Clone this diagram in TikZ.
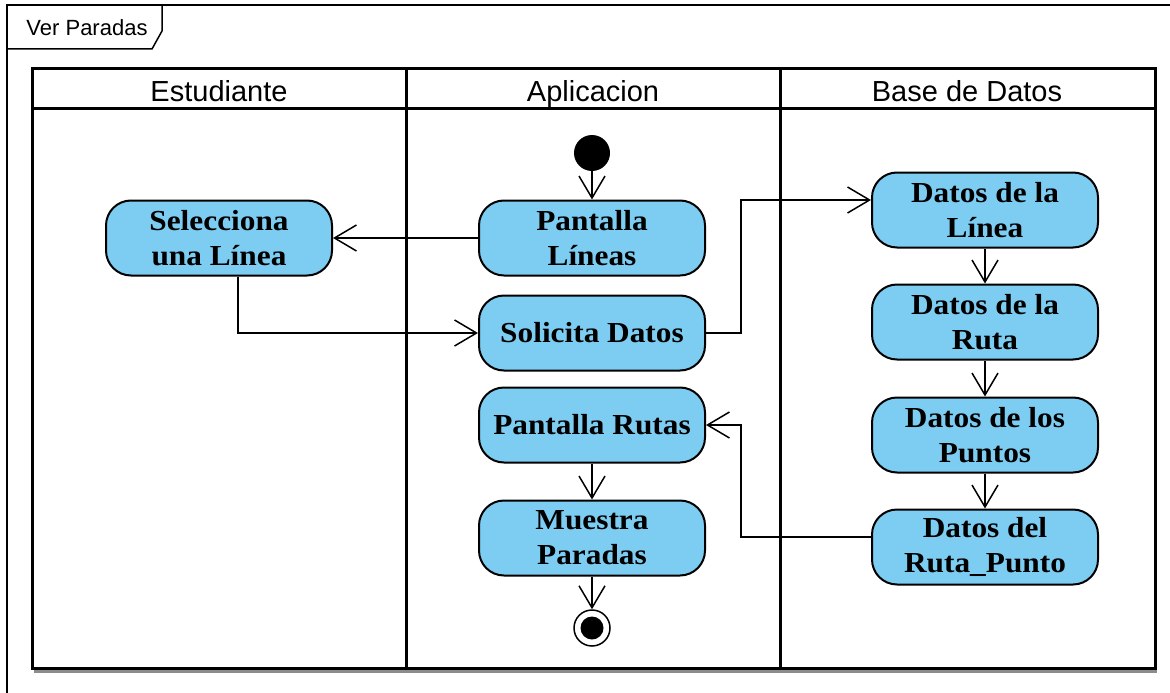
\documentclass[tikz,border=0pt]{standalone}
\usepackage{fontspec}
\setmainfont{Liberation Serif}
\newfontfamily\hdrfont{Liberation Sans}
\newfontfamily\actfont[FakeStretch=1.08]{Liberation Serif}
\usetikzlibrary{arrows.meta,calc}
\definecolor{actblue}{RGB}{125,205,242}
\tikzset{
  act/.style={draw=black, line width=2pt, fill=actblue, rounded corners=25pt,
    minimum width=226pt, minimum height=75pt, align=center, inner sep=0pt,
    font=\actfont\bfseries\fontsize{29}{35}\selectfont},
  flow/.style={line width=1.5pt, -{Straight Barb[length=22pt,width=26pt,line width=1.5pt]}},
  lane/.style={line width=3pt},
  hdr/.style={font=\hdrfont\fontsize{29}{34}\selectfont, inner sep=0pt, anchor=base},
  framelbl/.style={font=\hdrfont\fontsize{22}{26}\selectfont, inner sep=0pt},
}
\begin{document}
\begin{tikzpicture}[x=1pt,y=-1pt]
\useasboundingbox (0,0) rectangle (1170,693);
% outer frame
\draw[line width=1.5pt] (1170,5) -- (7,5) -- (7,693);
\draw[line width=1.5pt] (7,49) -- (152,49) -- (162,31) -- (162,5);
\node[framelbl] (frm) at (87,28) {Ver Paradas};
% swimlanes
\draw[line width=3pt, black!45] (34,671) -- (1157,671);
\draw[lane] (32,69) rectangle (1155,668);
\draw[lane] (32,108) -- (1155,108);
\draw[lane] (406,69) -- (406,668);
\draw[lane] (780,69) -- (780,668);
\node[hdr] (h1) at (219,101) {Estudiante};
\node[hdr] (h2) at (593,101) {Aplicacion};
\node[hdr] (h3) at (967,101) {Base de Datos};
% nodes
\node[circle, fill=black, minimum size=36pt, inner sep=0pt] (init) at (592,153) {};
\node[act] (sel) at (219,238) {Selecciona\\una Línea};
\node[act] (pl) at (592,238) {Pantalla\\Líneas};
\node[act] (sd) at (592,333) {Solicita Datos};
\node[act] (pr) at (592,425) {Pantalla Rutas};
\node[act] (mp) at (592,538) {Muestra\\Paradas};
\node[circle, draw=black, line width=1.5pt, fill=white, minimum size=36pt, inner sep=0pt] (fin) at (592,628) {};
\node[circle, fill=black, minimum size=23pt, inner sep=0pt] (finin) at (fin) {};
\node[act] (dl) at (985,210) {Datos de la\\Línea};
\node[act] (dr) at (985,322) {Datos de la\\Ruta};
\node[act] (dp) at (985,435) {Datos de los\\Puntos};
\node[act] (drp) at (985,547) {Datos del\\Ruta\_Punto};
\coordinate (jx) at (741,0);
% connectors
\draw[flow] (init) -- (pl.north);
\draw[flow] (pl.west) -- (sel.east);
\draw[flow] ([xshift=19pt]sel.south) |- (sd.west);
\draw[flow] (sd.east) -- (sd.east -| jx) |- ([yshift=10pt]dl.west);
\draw[flow] (dl) -- (dr);
\draw[flow] (dr) -- (dp);
\draw[flow] (dp) -- (drp);
\draw[flow] ([yshift=10pt]drp.west) -- ([yshift=10pt]drp.west -| jx) |- (pr.east);
\draw[flow] (pr) -- (mp);
\draw[flow] (mp) -- (fin);
\end{tikzpicture}
\end{document}
